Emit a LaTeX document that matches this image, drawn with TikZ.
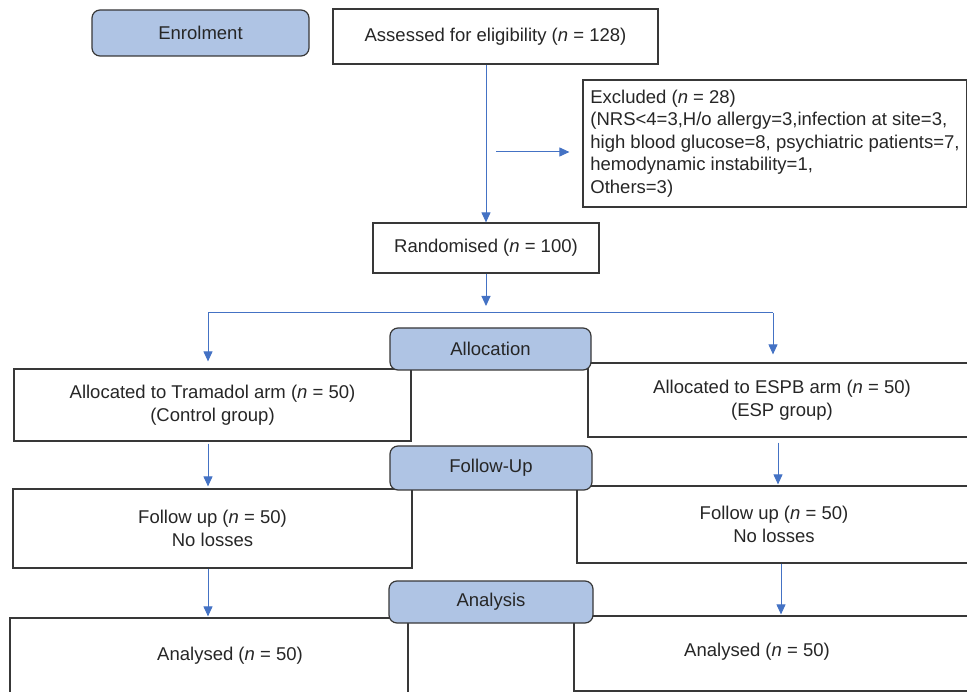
\documentclass[tikz,border=0pt]{standalone}
\usepackage{fontspec}
\setmainfont{Liberation Sans}
\usetikzlibrary{arrows.meta}

\definecolor{phasefill}{HTML}{AFC4E4}
\definecolor{flowblue}{HTML}{4472C4}
\definecolor{edgegray}{HTML}{383838}

\tikzset{
  txt/.style={text=black!85, font=\fontsize{18.5}{22.5}\selectfont, align=center, inner sep=0pt},
  box/.style={txt, draw=edgegray, line width=1.2pt, fill=white},
  phase/.style={box, fill=phasefill, rounded corners=8pt},
  flow/.style={flowblue, line width=1pt},
  arr/.style={flow, -{Triangle[length=10pt,width=9pt]}},
}

\begin{document}
\begin{tikzpicture}[x=1pt, y=-1pt]
    \useasboundingbox (0,0) rectangle (967,692);

    % screening
    \node[box, minimum width=325pt, minimum height=55pt] (assess) at (495.5,36.5) {Assessed for eligibility (\textit{n} = 128)};
    \node[box, align=left, minimum width=384pt, minimum height=127pt] (excl) at (775,143.5)
        {Excluded (\textit{n} = 28)\\(NRS<4=3,H/o allergy=3,infection at site=3,\\high blood glucose=8, psychiatric patients=7,\\hemodynamic instability=1,\\Others=3)};
    \node[box, minimum width=226pt, minimum height=50pt] (rand) at (486,248) {Randomised (\textit{n} = 100)};

    % arms
    \node[box, minimum width=397pt, minimum height=72pt] (tram) at (212.5,405) {Allocated to Tramadol arm (\textit{n} = 50)\\(Control group)};
    \node[box, minimum width=388pt, minimum height=74pt] (espb) at (782,400) {Allocated to ESPB arm (\textit{n} = 50)\\(ESP group)};
    \node[box, minimum width=399pt, minimum height=79pt] (fupl) at (212.5,528.5) {Follow up (\textit{n} = 50)\\No losses};
    \node[box, minimum width=394pt, minimum height=77pt] (fupr) at (774,524.5) {Follow up (\textit{n} = 50)\\No losses};
    \node[box, minimum width=398pt, minimum height=77pt] (anl) at (209,656.5) {};
    \node[box, minimum width=401pt, minimum height=75pt] (anr) at (774.5,653.5) {};
    \node[txt] (anltext) at (230,656) {Analysed (\textit{n} = 50)};
    \node[txt] (anrtext) at (757,652) {Analysed (\textit{n} = 50)};

    % phases
    \node[phase, minimum width=217pt, minimum height=46pt] (enrol) at (200.5,33) {Enrolment};
    \node[phase, minimum width=201pt, minimum height=42pt] (alloc) at (490.5,349) {Allocation};
    \node[phase, minimum width=202pt, minimum height=44pt] (follow) at (491,468) {Follow-Up};
    \node[phase, minimum width=204pt, minimum height=42pt] (analysis) at (491,602) {Analysis};

    % connectors
    \coordinate (split) at (486,152);
    \coordinate (fork) at (486,313);
    \coordinate (forkl) at (208,313);
    \coordinate (forkr) at (773,313);
    \coordinate (lanel) at (208,0);
    \coordinate (laner) at (780,0);

    \draw[arr] (assess.south -| rand.north) -- (rand.north);
    \draw[arr, shorten <=10pt, shorten >=13pt] (split) -- (split -| excl.west);
    \draw[arr, shorten >=7pt] (rand.south) -- (fork);
    \draw[flow] (forkl) -- (forkr);
    \draw[arr, shorten >=7pt] (forkl) -- (forkl |- tram.north);
    \draw[arr, shorten >=8pt] (forkr) -- (forkr |- espb.north);
    \draw[arr, shorten <=2pt, shorten >=2pt] (tram.south -| lanel) -- (fupl.north -| lanel);
    \draw[arr, shorten <=5pt, shorten >=1pt] ([xshift=-2pt]espb.south -| laner) -- ([xshift=-2pt]fupr.north -| laner);
    \draw[arr, shorten >=1pt] (fupl.south -| lanel) -- (anl.north -| lanel);
    \draw[arr, shorten >=1pt] ([xshift=1pt]fupr.south -| laner) -- ([xshift=1pt]anr.north -| laner);
\end{tikzpicture}
\end{document}
